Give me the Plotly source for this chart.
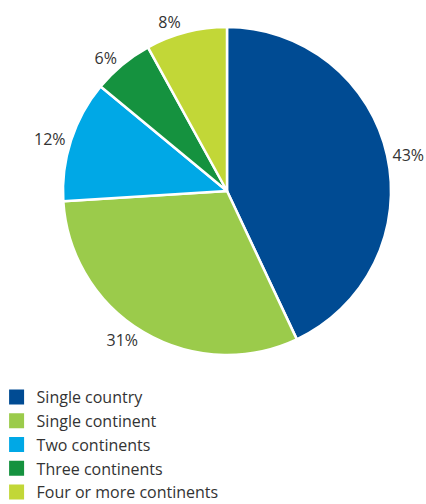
import plotly.graph_objects as go

labels = ["Single country", "Single continent", "Two continents", "Three continents", "Four or more continents"]
values = [43, 31, 12, 6, 8]
colors = ["#004b93", "#9bcb4b", "#00a8e6", "#15923f", "#c2d737"]

cx, cy, r = 227, 191, 164
W, H = 426, 504

fig = go.Figure(go.Pie(
    labels=labels,
    values=values,
    sort=False,
    direction="clockwise",
    rotation=0,
    marker=dict(colors=colors, line=dict(color="white", width=2.5)),
    texttemplate="%{value}%",
    textposition="outside",
    outsidetextfont=dict(size=16, color="#333333", family="Open Sans"),
    domain=dict(x=[(cx - r) / W, (cx + r) / W], y=[(H - cy - r) / H, (H - cy + r) / H]),
    showlegend=False,
    hoverinfo="label+percent",
))

# legend entries with larger square symbols
for lab, col in zip(labels, colors):
    fig.add_trace(go.Scatter(
        x=[None], y=[None], mode="markers", name=lab,
        marker=dict(symbol="square", size=15, color=col),
        showlegend=True, hoverinfo="skip",
    ))

fig.update_layout(
    width=W, height=H,
    margin=dict(l=0, r=0, t=0, b=0, autoexpand=False),
    paper_bgcolor="white",
    plot_bgcolor="white",
    xaxis=dict(visible=False),
    yaxis=dict(visible=False),
    font=dict(family="Open Sans", size=16, color="#333333"),
    legend=dict(x=-0.008, y=0.246, xanchor="left", yanchor="top",
                orientation="v", font=dict(size=16, color="#333333"),
                itemsizing="trace", tracegroupgap=0, bgcolor="rgba(0,0,0,0)"),
)

fig.write_html("out.html")
